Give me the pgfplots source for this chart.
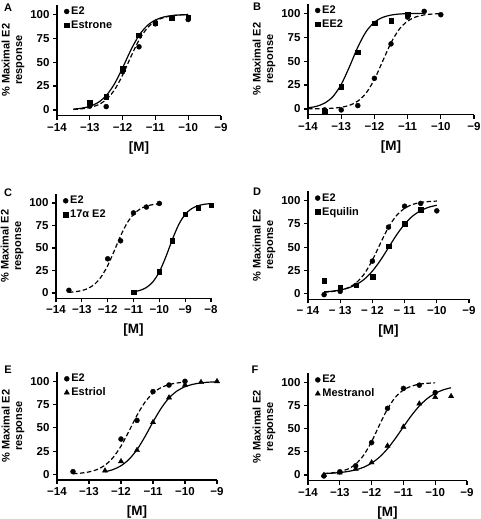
\documentclass[border=0pt]{standalone}
\usepackage{fontspec}
\setmainfont{Liberation Sans}
\usepackage{pgfplots}
\pgfplotsset{compat=1.18}
\pgfplotsset{
 panel/.style={
  scale only axis, xmin=-14, xmax=-9, ymin=-6, ymax=110,
  axis x line*=bottom, axis y line*=left,
  axis line style={line width=1.2pt},
  tick align=outside, major tick length=4pt,
  every tick/.style={black, line width=1.2pt},
  xtick={-14,...,-9},
  xticklabels={−14,−13,−12,−11,−10,−9},
  ytick={0,25,50,75,100},
  tick label style={font=\fontsize{11.5}{13}\selectfont\bfseries},
  /pgf/number format/assume math mode=true,
  xlabel={[M]},
  xlabel style={font=\fontsize{13.5}{15}\selectfont\bfseries, at={([yshift=-32pt]axis description cs:0.5,0)}, anchor=center},
  ylabel={\% Maximal E2\\response},
  ylabel style={font=\fontsize{11}{12.5}\selectfont\bfseries, align=center, at={([xshift=-29pt]axis description cs:0,0.5)}, anchor=south},
  clip=false,
  legend style={draw=none, fill=none, at={(0,1)}, anchor=north west, xshift=6pt, yshift=1pt, font=\fontsize{11}{12.5}\selectfont\bfseries, row sep=0.5pt, inner sep=1pt},
  legend cell align=left,
  legend image code/.code={\draw[mark repeat=2,mark phase=2,#1] plot coordinates {(-3pt,0pt)(0pt,0pt)(9pt,0pt)};},
 },
 fit/.style={black, line width=1.2pt, smooth, no marks, forget plot},
 fitd/.style={fit, dash pattern=on 4.5pt off 2.5pt},
 circ/.style={black, only marks, mark=*, mark size=2.5pt},
 sq/.style={black, only marks, mark=square*, mark size=2.3pt},
 tri/.style={black, only marks, mark=triangle*, mark size=3pt},
}
\begin{document}
\begin{tikzpicture}
\useasboundingbox (0,0) rectangle (480pt,519pt);
\tikzset{lab/.style={font=\fontsize{11}{13}\selectfont\bfseries}}
\node[lab] at (8pt,511pt) {A};
\node[lab] at (257pt,512pt) {B};
\node[lab] at (8pt,326pt) {C};
\node[lab] at (257pt,327pt) {D};
\node[lab] at (8pt,149pt) {E};
\node[lab] at (255pt,149pt) {F};

% ---------- A ----------
\begin{axis}[panel, at={(57pt,403.3pt)}, anchor=south west, width=164pt, height=111pt]
\addplot[fitd] coordinates {(-13.5,0.5)(-13.25,1.2)(-13,2.5)(-12.75,5.3)(-12.5,10.8)(-12.25,20.8)(-12,36.4)(-11.75,55.4)(-11.5,73.0)(-11.25,85.5)(-11,92.8)(-10.75,96.5)(-10.5,98.4)(-10.25,99.3)(-10,99.7)};
\addplot[fit] coordinates {(-13.5,0.9)(-13.25,1.8)(-13,3.8)(-12.75,7.7)(-12.5,15.0)(-12.25,27.1)(-12,44.0)(-11.75,62.5)(-11.5,77.9)(-11.25,88.1)(-11,94.0)(-10.75,97.1)(-10.5,98.6)(-10.25,99.3)(-10,99.7)};
\addplot[circ] coordinates {(-13,4)(-12.5,3.5)(-12,40)(-11.5,66)(-11,90)(-10.5,96)(-10,94.5)};
\addplot[sq] coordinates {(-13,8)(-12.5,14)(-12,43)(-11.5,78)(-11,90.5)(-10.5,96)(-10,97)};
\legend{E2,Estrone}
\end{axis}

% ---------- B ----------
\begin{axis}[panel, at={(308pt,404.3pt)}, anchor=south west, width=166pt, height=111pt]
\addplot[fitd] coordinates {(-14,0.1)(-13.75,0.2)(-13.5,0.35)(-13.25,0.8)(-13,1.75)(-12.75,3.8)(-12.5,8.2)(-12.25,16.6)(-12,30.9)(-11.75,50)(-11.5,69.1)(-11.25,83.4)(-11,91.8)(-10.75,96.2)(-10.5,98.3)(-10.25,99.2)(-10,99.6)};
\addplot[fit] coordinates {(-14,1.2)(-13.75,2.7)(-13.5,6.1)(-13.25,12.9)(-13,25.6)(-12.75,44.2)(-12.5,64.6)(-12.25,80.8)(-12,90.6)(-11.75,95.7)(-11.5,98.1)(-11.25,99.2)(-11,99.6)(-10.75,99.8)(-10.5,99.9)};
\addplot[circ] coordinates {(-13.5,-1)(-13,-1)(-12.5,3.5)(-12,32)(-11.5,68)(-11,96)(-10.5,102)(-10,98.5)};
\addplot[sq] coordinates {(-13.5,-2.5)(-13,23.5)(-12.5,59.5)(-12,89.5)(-11.5,92)(-11,99)};
\legend{E2,EE2}
\end{axis}

% ---------- C ----------
\begin{axis}[panel, at={(56pt,220.6pt)}, anchor=south west, width=155pt, height=104.4pt, xmax=-8,
  xtick={-14,...,-8}, xticklabels={−14,−13,−12,−11,−10,−9,−8}]
\addplot[fitd] coordinates {(-13.5,0.7)(-13.25,1.4)(-13,2.7)(-12.75,5.2)(-12.5,9.9)(-12.25,18.0)(-12,30.4)(-11.75,46.5)(-11.5,63.5)(-11.25,77.6)(-11,87.4)(-10.75,93.2)(-10.5,96.5)(-10.25,98.2)(-10,99.1)};
\addplot[fit] coordinates {(-11,1.35)(-10.75,2.9)(-10.5,6.1)(-10.25,12.4)(-10,23.5)(-9.75,40.0)(-9.5,59.2)(-9.25,76.0)(-9,87.3)(-8.75,93.7)(-8.5,97.0)(-8.25,98.6)(-8,99.4)};
\addplot[circ] coordinates {(-13.5,3)(-12,38)(-11.5,58)(-11,89)(-10.5,95.5)(-10,99.5)};
\addplot[sq] coordinates {(-11,0.7)(-10,23.5)(-9.5,58)(-9,87.5)(-8.5,95)(-8,97.5)};
\legend{E2,17α E2}
\end{axis}

% ---------- D ----------
\begin{axis}[panel, at={(308pt,219.7pt)}, anchor=south west, width=161pt, height=108pt,
  xticklabels={− 14,− 13,− 12,− 11,−10,−9}]
\addplot[fitd] coordinates {(-13.5,1.6)(-13.25,2.3)(-13,3.7)(-12.75,6.4)(-12.5,11.8)(-12.25,21.4)(-12,36.1)(-11.75,54.2)(-11.5,71.4)(-11.25,84.0)(-11,91.7)(-10.75,95.9)(-10.5,98.0)(-10.25,99.0)(-10,99.5)};
\addplot[fit] coordinates {(-13.5,2.0)(-13.25,2.7)(-13,4.0)(-12.75,6.2)(-12.5,9.8)(-12.25,15.6)(-12,24.3)(-11.75,35.9)(-11.5,49.5)(-11.25,63.1)(-11,74.7)(-10.75,83.4)(-10.5,89.2)(-10.25,92.9)(-10,95.0)};
\addplot[circ] coordinates {(-13.5,-1)(-13,2.5)(-12.5,9)(-12,35)(-11.5,71.5)(-11,94)(-10.5,97)(-10,89)};
\addplot[sq] coordinates {(-13.5,14)(-13,7)(-12.5,9)(-12,18.5)(-11.5,51)(-11,75)(-10.5,90)};
\legend{E2,Equilin}
\end{axis}

% ---------- E ----------
\begin{axis}[panel, at={(57pt,39pt)}, anchor=south west, width=160pt, height=108pt]
\addplot[fitd] coordinates {(-13.5,0.7)(-13.25,1.4)(-13,2.7)(-12.75,5.2)(-12.5,9.9)(-12.25,18.0)(-12,30.4)(-11.75,46.5)(-11.5,63.5)(-11.25,77.6)(-11,87.4)(-10.75,93.2)(-10.5,96.5)(-10.25,98.2)(-10,99.1)};
\addplot[fit] coordinates {(-12.5,2.8)(-12.25,5.2)(-12,9.3)(-11.75,16.2)(-11.5,26.6)(-11.25,40.6)(-11,56.3)(-10.75,70.8)(-10.5,82.1)(-10.25,89.6)(-10,94.2)(-9.75,96.8)(-9.5,98.3)(-9.25,99.1)(-9,99.5)};
\addplot[circ] coordinates {(-13.5,3)(-12,38)(-11.5,58)(-11,89)(-10.5,96)(-10,100)};
\addplot[tri] coordinates {(-12.5,4)(-12,14)(-11.5,26)(-11,56)(-10.5,82.5)(-10,96)(-9.5,99)(-9,100)};
\legend{E2,Estriol}
\end{axis}

% ---------- F ----------
\begin{axis}[panel, at={(308pt,38.4pt)}, anchor=south west, width=159pt, height=107.5pt]
\addplot[fitd] coordinates {(-13.5,1.6)(-13.25,2.3)(-13,3.7)(-12.75,6.4)(-12.5,11.8)(-12.25,21.4)(-12,36.1)(-11.75,54.2)(-11.5,71.4)(-11.25,84.0)(-11,91.7)(-10.75,95.9)(-10.5,98.0)(-10.25,99.0)(-10,99.5)};
\addplot[fit] coordinates {(-13.5,1.6)(-13.25,2.0)(-13,2.7)(-12.75,3.8)(-12.5,5.6)(-12.25,8.4)(-12,12.9)(-11.75,19.4)(-11.5,28.4)(-11.25,39.6)(-11,52.0)(-10.75,64.1)(-10.5,74.5)(-10.25,82.5)(-10,88.1)(-9.75,91.9)(-9.5,94.2)};
\addplot[circ] coordinates {(-13.5,-1)(-13,3.5)(-12.5,10)(-12,35)(-11.5,72)(-11,93.5)(-10.5,97)(-10,89)};
\addplot[tri] coordinates {(-13.5,0)(-13,2.5)(-12.5,6.5)(-12,13.5)(-11.5,31.5)(-11,52)(-10.5,77)(-10,84)(-9.5,85)};
\legend{E2,Mestranol}
\end{axis}
\end{tikzpicture}
\end{document}
